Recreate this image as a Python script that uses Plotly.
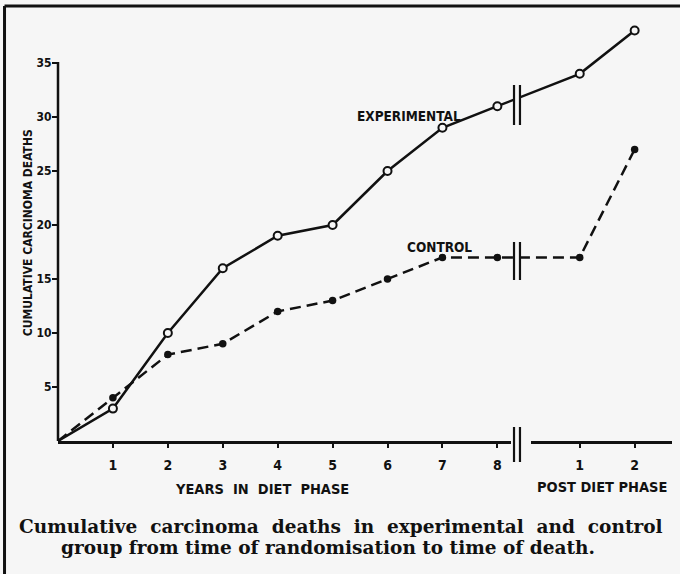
import plotly.graph_objects as go

# Values
diet_years = [0, 1, 2, 3, 4, 5, 6, 7, 8]
post_years = [1, 2]
experimental_diet = [0, 3, 10, 16, 19, 20, 25, 29, 31]
experimental_post = [34, 38]
control_diet = [0, 4, 8, 9, 12, 13, 15, 17, 17]
control_post = [17, 27]
y_ticks = [5, 10, 15, 20, 25, 30, 35]

BG = "#f6f6f6"
INK = "#111111"
SANS = "Liberation Sans Narrow, DejaVu Sans Condensed, Liberation Sans, sans-serif"
SERIF = "DejaVu Serif, Liberation Serif, serif"

# post diet years sit after the axis break
break_at = 8.5
x_all = diet_years + [break_at + p for p in post_years]
exp_all = experimental_diet + experimental_post
ctl_all = control_diet + control_post
tick_vals = diet_years[1:] + [break_at + p for p in post_years]
tick_text = [str(v) for v in diet_years[1:]] + [str(p) for p in post_years]

fig = go.Figure()

# Experimental: solid line, open circles
fig.add_trace(
    go.Scatter(
        x=x_all, y=exp_all, mode="lines",
        line=dict(color=INK, width=2.5), hoverinfo="skip",
    )
)
fig.add_trace(
    go.Scatter(
        x=x_all[1:], y=exp_all[1:], mode="markers",
        marker=dict(symbol="circle", size=8, color=BG, line=dict(color=INK, width=2)),
        cliponaxis=False,
    )
)

# Control: dashed line, filled dots
fig.add_trace(
    go.Scatter(
        x=x_all, y=ctl_all, mode="lines",
        line=dict(color=INK, width=2.5, dash="11px,6px"), hoverinfo="skip",
    )
)
fig.add_trace(
    go.Scatter(
        x=x_all[1:], y=ctl_all[1:], mode="markers",
        marker=dict(symbol="circle", size=7.5, color=INK),
        cliponaxis=False,
    )
)

shapes = []

# y axis line (stops just above 35)
shapes.append(dict(type="line", xref="paper", yref="paper", x0=0, x1=0, y0=0, y1=0.90,
                   line=dict(color=INK, width=2.5)))


# axis gap + double bars on the axis and on each line
def break_marks(y0, y1, gap_x0=0.7427, gap_x1=0.7524):
    out = [dict(type="rect", xref="paper", yref="paper", x0=gap_x0, x1=gap_x1,
                y0=y0, y1=y1, fillcolor=BG, line=dict(width=0))]
    for xb in (gap_x0, gap_x1):
        out.append(dict(type="line", xref="paper", yref="paper", x0=xb, x1=xb,
                        y0=y0, y1=y1, line=dict(color=INK, width=2.2)))
    return out


shapes.append(dict(type="rect", xref="paper", yref="paper", x0=0.7378, x1=0.7704,
                   y0=-0.012, y1=0.012, fillcolor=BG, line=dict(width=0)))
shapes += break_marks(-0.0499, 0.0333)
shapes += break_marks(0.7506, 0.8456)
shapes += break_marks(0.3824, 0.4727)

# scanned page frame (top and left edges)
shapes.append(dict(type="line", xref="paper", yref="paper", x0=-0.0871, x1=-0.0871,
                   y0=-0.5, y1=1.0333, line=dict(color=INK, width=3)))
shapes.append(dict(type="line", xref="paper", yref="paper", x0=-0.0871, x1=1.2,
                   y0=1.0333, y1=1.0333, line=dict(color=INK, width=3)))


def label(text, x, y, size, family=SANS, ref="paper", angle=0):
    return dict(text=text, x=x, y=y, xref=ref, yref=ref, showarrow=False,
                xanchor="center", yanchor="middle", textangle=angle,
                font=dict(family=family, size=size, color=INK))


annotations = [
    label("<b>EXPERIMENTAL</b>", 6.39, 30.1, 13.5, ref="x"),
    label("<b>CONTROL</b>", 6.94, 18.0, 13.5, ref="x"),
    label("<b>CUMULATIVE CARCINOMA DEATHS</b>", -0.0489, 0.496, 12, angle=-90),
    label("<b>YEARS  IN  DIET  PHASE</b>", 0.332, -0.114, 14.5),
    label("<b>POST DIET PHASE</b>", 0.886, -0.109, 14.5),
    label("<b>Cumulative&nbsp; carcinoma&nbsp; deaths&nbsp; in&nbsp; "
          "experimental&nbsp; and&nbsp; control</b>", 0.461, -0.204, 18.5, family=SERIF),
    label("<b>group from time of randomisation to time of death.</b>",
          0.44, -0.254, 18.5, family=SERIF),
]
annotations[0]["yref"] = "y"
annotations[1]["yref"] = "y"

fig.update_layout(
    width=680,
    height=574,
    margin=dict(l=58, r=8, t=20, b=133),
    paper_bgcolor=BG,
    plot_bgcolor=BG,
    showlegend=False,
    shapes=shapes,
    annotations=annotations,
)
fig.update_xaxes(
    range=[0, 11.18],
    showgrid=False, zeroline=False,
    showline=True, linecolor=INK, linewidth=2.5,
    ticks="outside", ticklen=4, tickwidth=2, tickcolor=INK,
    tickvals=tick_vals, ticktext=tick_text,
    tickfont=dict(family=SANS, size=14, color=INK, weight="bold"),
    ticklabelstandoff=5,
)
fig.update_yaxes(
    range=[0, 38.98],
    showgrid=False, zeroline=False, showline=False,
    ticks="outside", ticklen=5, tickwidth=2, tickcolor=INK,
    tickvals=y_ticks,
    tickfont=dict(family=SANS, size=12, color=INK, weight="bold"),
    ticklabelstandoff=-2,
)

fig.write_html(
    "out.html",
    config={"displayModeBar": False},
    post_script="document.body.style.margin = '0px';",
)
